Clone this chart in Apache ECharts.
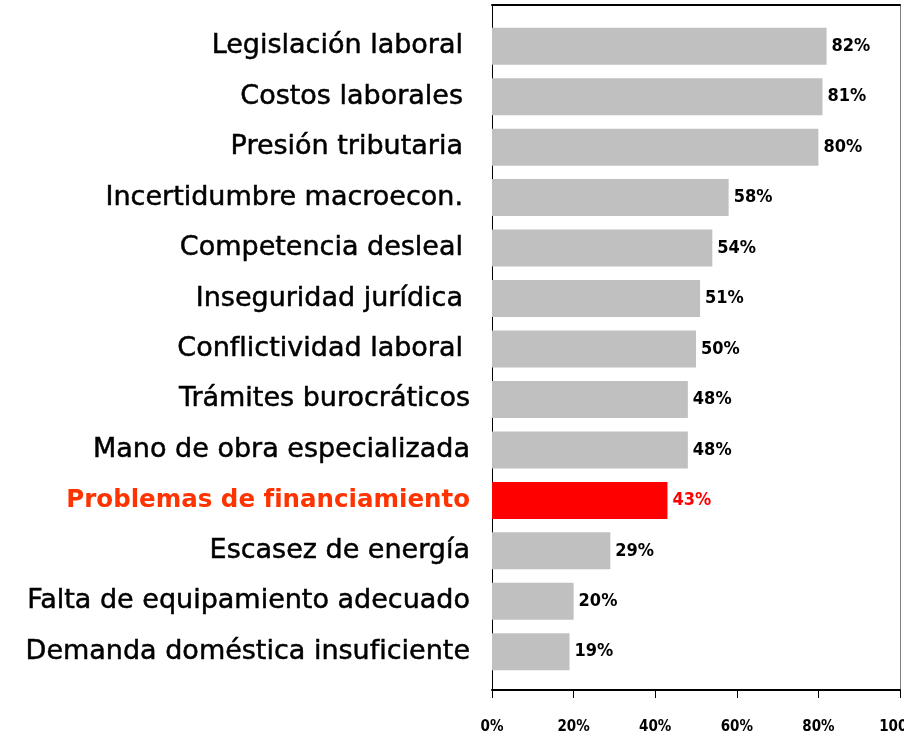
<!DOCTYPE html>
<html lang="es">
<head>
    <meta charset="UTF-8">
    <title>Obstáculos para la actividad</title>
    <script src="https://cdn.jsdelivr.net/npm/echarts@6/dist/echarts.min.js"></script>
    <style>
        body {
            margin: 0;
            background: #ffffff;
        }
        #chart {
            width: 904px;
            height: 736px;
        }
    </style>
</head>
<body>
    <div id="chart"></div>

    <script>
        var categories = [
            'Legislación laboral',
            'Costos laborales',
            'Presión tributaria',
            'Incertidumbre macroecon.',
            'Competencia desleal',
            'Inseguridad jurídica',
            'Conflictividad laboral',
            'Trámites burocráticos',
            'Mano de obra especializada',
            'Problemas de financiamiento',
            'Escasez de energía',
            'Falta de equipamiento adecuado',
            'Demanda doméstica insuficiente'
        ];
        var values = [82, 81, 80, 58, 54, 51, 50, 48, 48, 43, 29, 20, 19];
        var highlight = 'Problemas de financiamiento';
        var xTicks = [0, 20, 40, 60, 80, 100];

        var narrow = "'DejaVu Sans Condensed', 'Liberation Sans Narrow', 'Arial Narrow', sans-serif";

        var chart = echarts.init(document.getElementById('chart'));

        var barData = values.map(function (v, i) {
            var hot = categories[i] === highlight;
            return {
                value: v,
                itemStyle: { color: hot ? '#ff0000' : '#c0c0c0' },
                label: { color: hot ? '#ff0000' : '#000000' }
            };
        });

        // frame axes only draw lines, never sit on zero
        function frameAxis(extra) {
            return Object.assign({
                gridIndex: 1, type: 'value', min: 0, max: 1,
                axisTick: { show: false },
                axisLabel: { show: false },
                splitLine: { show: false }
            }, extra);
        }

        var option = {
            animation: false,
            backgroundColor: '#ffffff',
            grid: [
                // bars
                { left: 492, right: 4, top: 21, bottom: 59, outerBoundsMode: 'none' },
                // frame + ticks
                { left: 492, right: 4, top: 5, bottom: 46, outerBoundsMode: 'none' }
            ],
            xAxis: [
                { gridIndex: 0, type: 'value', min: 0, max: 100, show: false },
                {
                    gridIndex: 1, type: 'value', position: 'bottom',
                    min: xTicks[0], max: xTicks[xTicks.length - 1], interval: 20,
                    axisLine: { show: true, onZero: false, lineStyle: { color: '#000', width: 2 } },
                    axisTick: { show: true, length: 8, lineStyle: { color: '#000', width: 1 } },
                    axisLabel: {
                        margin: 30,
                        formatter: '{value}%',
                        fontFamily: narrow,
                        fontWeight: 'bold',
                        fontSize: 15,
                        color: '#000'
                    },
                    splitLine: { show: false }
                },
                frameAxis({
                    position: 'top',
                    axisLine: { show: true, onZero: false, lineStyle: { color: '#000', width: 2 } }
                })
            ],
            yAxis: [
                {
                    gridIndex: 0, type: 'category', inverse: true, data: categories,
                    axisLine: { show: false },
                    axisTick: { show: false },
                    axisLabel: {
                        margin: 22,
                        fontFamily: 'DejaVu Sans',
                        fontSize: 27,
                        color: '#000',
                        textBorderColor: '#000',
                        textBorderWidth: 0.5,
                        formatter: function (v, i) {
                            if (v === highlight) return '{h|' + v + '}';
                            return i < 7 ? '{n|' + v + '}' : v;
                        },
                        rich: {
                            h: {
                                fontFamily: 'DejaVu Sans', fontWeight: 'bold', fontSize: 24.5,
                                color: '#ff3300', textBorderWidth: 0
                            },
                            n: {
                                fontFamily: 'DejaVu Sans', fontSize: 27, color: '#000',
                                textBorderColor: '#000', textBorderWidth: 0.5, padding: [0, 7, 0, 0]
                            }
                        }
                    }
                },
                frameAxis({
                    position: 'left',
                    axisLine: { show: true, onZero: false, lineStyle: { color: '#000', width: 1 } }
                }),
                frameAxis({
                    position: 'right',
                    axisLine: { show: true, onZero: false, lineStyle: { color: '#808080', width: 1 } }
                })
            ],
            series: [{
                type: 'bar',
                xAxisIndex: 0,
                yAxisIndex: 0,
                barWidth: 37,
                data: barData,
                label: {
                    show: true,
                    position: 'right',
                    distance: 5,
                    formatter: '{c}%',
                    fontFamily: narrow,
                    fontWeight: 'bold',
                    fontSize: 18
                }
            }]
        };

        chart.setOption(option);
    </script>
</body>
</html>
